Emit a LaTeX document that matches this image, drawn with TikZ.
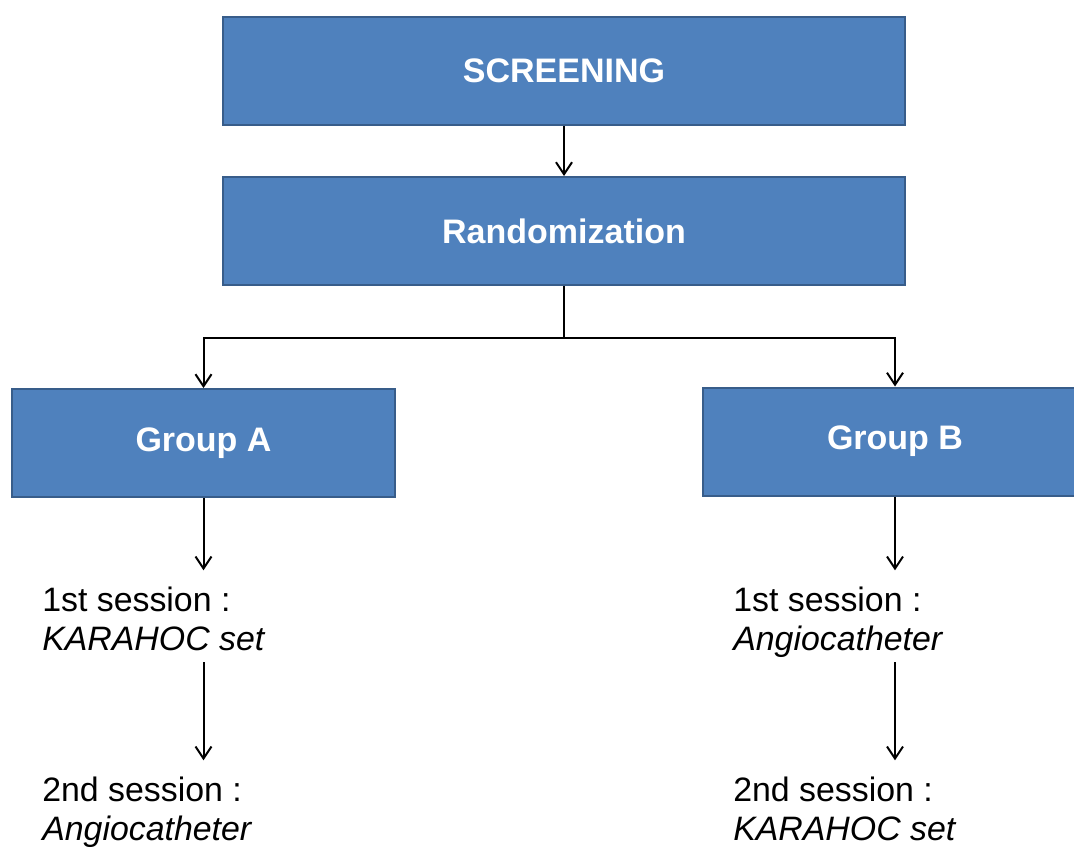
\documentclass[tikz,border=0pt]{standalone}
\usepackage{fontspec}
\setmainfont{Liberation Sans}
\usetikzlibrary{arrows.meta}

\definecolor{boxblue}{HTML}{4F81BD}
\definecolor{boxedge}{HTML}{385D8A}

\tikzstyle{block} = [rectangle, draw=boxedge, line width=1.5pt, fill=boxblue, text=white, font=\bfseries\fontsize{25.5pt}{30pt}\selectfont, minimum height=81pt, inner sep=0pt]
\tikzstyle{session} = [align=left, inner sep=0pt, anchor=north west, font=\fontsize{25.4pt}{28.8pt}\selectfont, execute at begin node=\strut, execute at end node=\strut]
\tikzstyle{arrow} = [line width=1.5pt, -{Straight Barb[length=9pt, width=12pt]}]

\begin{document}
\begin{tikzpicture}[x=0.75pt, y=-0.75pt]
    \useasboundingbox (0,0) rectangle (1074,847);

    % Nodes
    \node (screening) [block, minimum width=511.5pt] at (564,71) {SCREENING};
    \node (random) [block, minimum width=511.5pt] at (564,231) {Randomization};
    \node (groupA) [block, minimum width=287pt] at (203.5,443) {Group A};
    \node (groupB) [block, minimum width=288pt] at (895,441.5) {Group B};

    \node (sessionA1) [session] at (42,587) {1st session :\\ \textit{KARAHOC set}};
    \node (sessionA2) [session] at (42,777) {2nd session :\\ \textit{Angiocatheter}};
    \node (sessionB1) [session] at (733,587) {1st session :\\ \textit{Angiocatheter}};
    \node (sessionB2) [session] at (733,777) {2nd session :\\ \textit{KARAHOC set}};

    \coordinate (split) at ([yshift=-39pt]random.south);

    % Arrows
    \draw [arrow] (screening) -- (random);
    \draw [line width=1.5pt] (random) -- (split);
    \draw [arrow] (split) -| (groupA);
    \draw [arrow] (split) -| (groupB);

    \draw [arrow, shorten >=12.5pt] (groupA) -- (groupA.south |- sessionA1.north);
    \draw [arrow, shorten >=12.5pt] (sessionA1.south -| groupA.south) -- (groupA.south |- sessionA2.north);
    \draw [arrow, shorten >=12.5pt] (groupB) -- (groupB.south |- sessionB1.north);
    \draw [arrow, shorten >=12.5pt] (sessionB1.south -| groupB.south) -- (groupB.south |- sessionB2.north);

\end{tikzpicture}
\end{document}
